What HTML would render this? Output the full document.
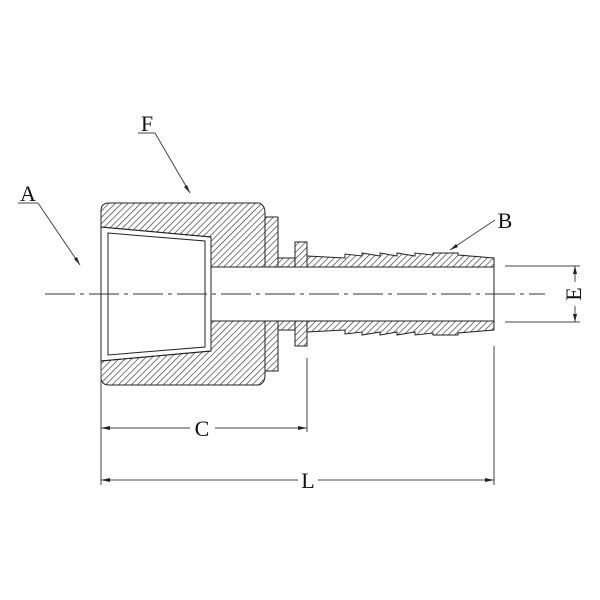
<!DOCTYPE html>
<html><head><style>body{margin:0;background:#fff}svg{display:block}text{font-family:"Liberation Serif",serif;fill:#111}</style></head>
<body>
<svg width="600" height="600" viewBox="0 0 600 600">
<defs>
<pattern id="h" patternUnits="userSpaceOnUse" width="4.5" height="4.5" patternTransform="rotate(45)">
<line x1="0" y1="0" x2="0" y2="4.5" stroke="#333" stroke-width="1.3"/>
</pattern>
<path id="shp" d="M101,211 Q101,203 109,203 L259,203 Q265,205 265,213 L265,217 L278,217 L278,258 L295,258 L295,242 L307,242 L307,256 L345,258 L345,254 L362,256 L362,253 L380,256 L380,253 L397,256 L397,253 L415,256 L415,253 L433,255 L433,253 L458,253 L458,255 L494,258 L494,267 L211,267 L211,237 L101,227 Z"/>
<clipPath id="cp">
<use href="#shp"/>
<use href="#shp" transform="translate(0,588) scale(1,-1)"/>
</clipPath>
<g id="half" fill="none" stroke="#222" stroke-width="1">
<use href="#shp"/>
<line x1="265" y1="217" x2="265" y2="267"/>
<line x1="278" y1="258" x2="278" y2="267"/>
<line x1="295" y1="258" x2="295" y2="267"/>
<line x1="307" y1="256" x2="307" y2="267"/>
</g>
</defs>
<rect x="0" y="0" width="600" height="600" fill="url(#h)" clip-path="url(#cp)"/>
<use href="#half"/>
<use href="#half" transform="translate(0,588) scale(1,-1)"/>
<path d="M101,227 L211,237 L211,351 L101,361" fill="none" stroke="#222"/>
<path d="M108,233 L205,241 L205,347 L108,355 Z" fill="none" stroke="#222"/>
<line x1="101" y1="211" x2="101" y2="377" stroke="#222"/>
<line x1="494" y1="258" x2="494" y2="330" stroke="#222"/>
<path d="M45,294 H545" stroke="#333" stroke-width="1" stroke-dasharray="30,5,4,5"/>
<g stroke="#444" stroke-width="1">
<line x1="101" y1="362" x2="101" y2="485"/>
<line x1="307" y1="358" x2="307" y2="432"/>
<line x1="494" y1="346" x2="494" y2="485"/>
<line x1="505" y1="266" x2="580" y2="266"/>
<line x1="505" y1="322" x2="580" y2="322"/>
<line x1="101" y1="428" x2="190" y2="428"/>
<line x1="215" y1="428" x2="307" y2="428"/>
<line x1="101" y1="480" x2="298" y2="480"/>
<line x1="318" y1="480" x2="494" y2="480"/>
<line x1="575" y1="266" x2="575" y2="282"/>
<line x1="575" y1="306" x2="575" y2="322"/>
<line x1="155" y1="133" x2="190" y2="193"/>
<line x1="138" y1="133" x2="155" y2="133"/>
<line x1="38" y1="203" x2="80" y2="265"/>
<line x1="18" y1="203" x2="38" y2="203"/>
<line x1="495" y1="220" x2="450" y2="250"/>
</g>
<g fill="#222">
<path d="M101,428 l9,-2 v4z"/><path d="M307,428 l-9,-2 v4z"/>
<path d="M101,480 l9,-2 v4z"/><path d="M494,480 l-9,-2 v4z"/>
<path d="M575,266 l-2,8 h4z"/><path d="M575,322 l-2,-8 h4z"/>
<path d="M190,193 l-6,-6 l3,-2z"/><path d="M80,265 l-6,-6 l3,-2z"/><path d="M450,250 l6,-6 l2,3z"/>
</g>
<text x="202" y="436" font-size="22" text-anchor="middle">C</text>
<text x="308" y="488" font-size="22" text-anchor="middle">L</text>
<text x="147" y="131" font-size="22" text-anchor="middle">F</text>
<text x="28" y="201" font-size="22" text-anchor="middle">A</text>
<text x="505" y="228" font-size="22" text-anchor="middle">B</text>
<text x="0" y="0" font-size="22" text-anchor="middle" transform="translate(581,294) rotate(-90)">E</text>
</svg>
</body></html>
